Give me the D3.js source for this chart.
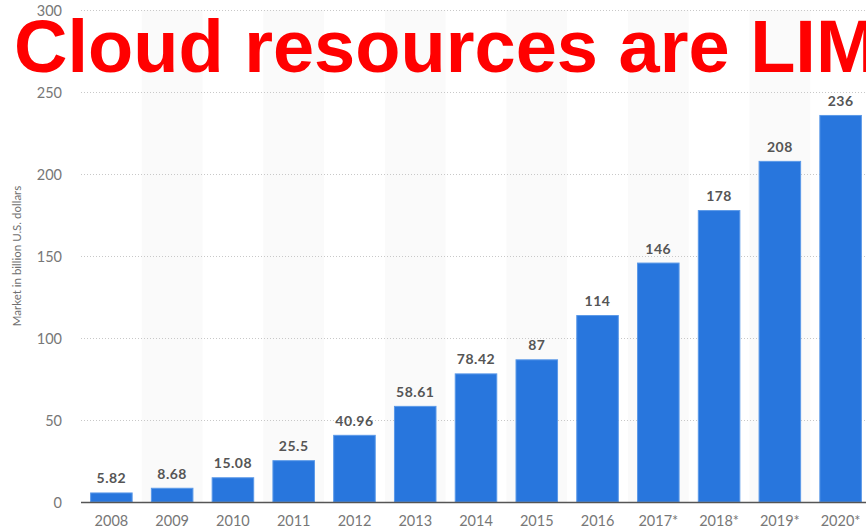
<!DOCTYPE html>
<html><head><meta charset="utf-8">
<script src="https://cdn.jsdelivr.net/npm/d3@7"></script>
<style>html,body{margin:0;padding:0;background:#fff;overflow:hidden}</style>
</head><body>
<svg id="c" width="866" height="531"></svg>
<script>
const categories = ["2008","2009","2010","2011","2012","2013","2014","2015","2016","2017*","2018*","2019*","2020*"];
const values = [5.82,8.68,15.08,25.5,40.96,58.61,78.42,87,114,146,178,208,236];
const valueLabels = ["5.82","8.68","15.08","25.5","40.96","58.61","78.42","87","114","146","178","208","236"];
const yTicks = [0,50,100,150,200,250,300];
const yTitle = "Market in billion U.S. dollars";
const overlayTitle = "Cloud resources are LIMITED";

const svg = d3.select("#c");
const x = d3.scaleBand().domain(categories).range([81, 871]).paddingInner(0.3).paddingOuter(0.15);
const y = d3.scaleLinear().domain([0,300]).range([502, 10]);
const step = x.step();

// alternating shading
svg.append("g").selectAll("rect").data(categories.filter((d,i)=>i%2===1)).join("rect")
  .attr("x", d => x(d) - step*x.paddingInner()/2)
  .attr("y", y(300)).attr("width", step).attr("height", y(0)-y(300))
  .attr("fill", "#fafafa");

// gridlines
svg.append("g").selectAll("line").data(yTicks.filter(t=>t>0)).join("line")
  .attr("x1", 81).attr("x2", 866).attr("y1", d=>y(d)+0.5).attr("y2", d=>y(d)+0.5)
  .attr("stroke", "#c8c8c8").attr("stroke-width", 1).attr("stroke-dasharray", "1,2");

// y axis labels
const yAxis = d3.axisLeft(y).tickValues(yTicks).tickSize(0).tickPadding(0);
const ya = svg.append("g").attr("transform", "translate(62,0)").call(yAxis);
ya.select(".domain").remove();
ya.selectAll("text").attr("font-family", "Lato, 'Open Sans', sans-serif").attr("font-size", 14.5).attr("fill", "#777").attr("dy", "0.35em");

svg.append("text").attr("transform", "translate(21,256) rotate(-90)").attr("text-anchor","middle")
  .attr("font-family", "Lato, 'Open Sans', sans-serif").attr("font-size", 11.5).attr("fill", "#707070").text(yTitle);

// bars
svg.append("g").selectAll("rect").data(values).join("rect")
  .attr("x", (d,i)=>x(categories[i])+0.5).attr("y", d=>y(d)+0.5)
  .attr("width", x.bandwidth()-1).attr("height", d=>y(0)-y(d)-0.5)
  .attr("fill", "#2876dd").attr("stroke", "#5b99e8").attr("stroke-width", 1);

// baseline
svg.append("line").attr("x1", 81).attr("x2", 866).attr("y1", y(0)+0.5).attr("y2", y(0)+0.5)
  .attr("stroke", "#555").attr("stroke-width", 1.5);

// value labels
svg.append("g").selectAll("text").data(values).join("text")
  .attr("x", (d,i)=>x(categories[i])+x.bandwidth()/2).attr("y", d=>y(d)-9)
  .attr("text-anchor","middle").attr("font-family", "Lato, 'Open Sans', sans-serif")
  .attr("font-weight", "bold").attr("font-size", 14).attr("fill", "#555").attr("letter-spacing", 0.5)
  .text((d,i)=>valueLabels[i]);

// x axis
const xAxis = d3.axisBottom(x).tickSize(0).tickPadding(0);
const xa = svg.append("g").attr("transform", `translate(0,${y(0)})`).call(xAxis);
xa.select(".domain").remove();
xa.selectAll("text").attr("font-family", "Lato, 'Open Sans', sans-serif").attr("font-size", 14.5).attr("fill", "#777").attr("dy", "1.65em");

// overlay title
svg.append("text").attr("x", 14).attr("y", 72)
  .attr("font-family", "'Liberation Sans', Arial, sans-serif").attr("font-weight", "bold")
  .attr("font-size", 74).attr("fill", "#ff0000").text(overlayTitle);
</script>
</body></html>
